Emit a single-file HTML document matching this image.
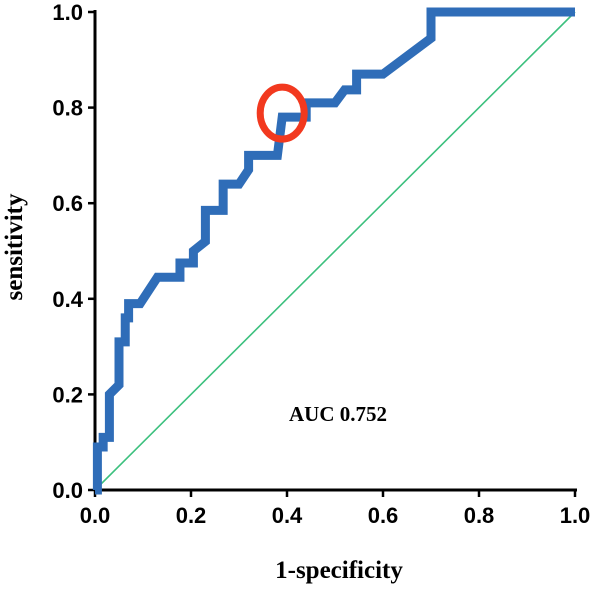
<!DOCTYPE html>
<html><head><meta charset="utf-8"><style>
body{margin:0;background:#fff;}
svg text{font-family:"Liberation Sans",sans-serif;}
</style></head><body>
<svg id="chart" width="600" height="586" viewBox="0 0 600 586">
<g id="axes"></g>
<g id="marks"></g>
<text x="338" y="421" text-anchor="middle" font-size="21" font-weight="bold" style="font-family:'Liberation Serif',serif">AUC 0.752</text>
<text x="339" y="578" text-anchor="middle" font-size="25" font-weight="bold" style="font-family:'Liberation Serif',serif">1-specificity</text>
<text transform="translate(22,247) rotate(-90)" text-anchor="middle" font-size="25" font-weight="bold" style="font-family:'Liberation Serif',serif">sensitivity</text>
</svg>
<script>
const fprValues=[0,0.005,0.005,0.017,0.017,0.03,0.03,0.05,0.05,0.063,0.063,0.07,0.07,0.094,0.13,0.177,0.177,0.205,0.205,0.23,0.23,0.267,0.267,0.3,0.32,0.32,0.38,0.39,0.44,0.44,0.5,0.52,0.545,0.545,0.6,0.7,0.7,1.0];
const tprValues=[0,0,0.09,0.09,0.11,0.11,0.2,0.22,0.31,0.31,0.36,0.36,0.39,0.39,0.445,0.445,0.475,0.475,0.5,0.52,0.585,0.585,0.64,0.64,0.67,0.70,0.70,0.78,0.78,0.81,0.81,0.837,0.837,0.87,0.87,0.945,1.0,1.0];
const tickValues=[0,0.2,0.4,0.6,0.8,1.0];
const tickLabels=["0.0","0.2","0.4","0.6","0.8","1.0"];
const cutoffPoint=[0.39,0.78];
const NS="http://www.w3.org/2000/svg";
const X0=95,X1=575,Y0=490,Y1=12;
const sx=v=>X0+v*(X1-X0), sy=v=>Y0-v*(Y0-Y1);
function mk(tag,attrs,parent){const e=document.createElementNS(NS,tag);for(const k in attrs)e.setAttribute(k,attrs[k]);parent.appendChild(e);return e;}
const axes=document.getElementById('axes'), marks=document.getElementById('marks');
let a=mk('line',{x1:X0,y1:Y0,x2:X1+2,y2:Y0,stroke:'#000','stroke-width':3},axes);


a=mk('line',{x1:X0,y1:Y0+1,x2:X0,y2:Y1-2,stroke:'#000','stroke-width':3},axes);


tickValues.forEach((v,i)=>{
  let t=mk('line',{x1:sx(v),y1:Y0,x2:sx(v),y2:Y0+7,stroke:'#000','stroke-width':2.5},axes);
  
  
  let l=mk('text',{x:sx(v),y:Y0+33,'text-anchor':'middle','font-size':22,'font-weight':'bold'},axes);l.textContent=tickLabels[i];
  
  
  t=mk('line',{x1:X0-7,y1:sy(v),x2:X0,y2:sy(v),stroke:'#000','stroke-width':2.5},axes);
  
  
  l=mk('text',{x:X0-12,y:sy(v)+8,'text-anchor':'end','font-size':22,'font-weight':'bold'},axes);l.textContent=tickLabels[i];
  
  
});
let d=mk('line',{x1:sx(0),y1:sy(0),x2:sx(1),y2:sy(1),stroke:'#3cc07e','stroke-width':1.6},marks);


let p=mk('polyline',{points:fprValues.map((v,i)=>sx(v)+','+sy(tprValues[i])).join(' '),fill:'none',stroke:'#2f6db8','stroke-width':9,'stroke-linejoin':'miter'},marks);


let c=mk('ellipse',{cx:sx(cutoffPoint[0]),cy:sy(cutoffPoint[1])-4,rx:22,ry:26,fill:'none',stroke:'#f2391f','stroke-width':7},marks);


</script>
</body></html>
